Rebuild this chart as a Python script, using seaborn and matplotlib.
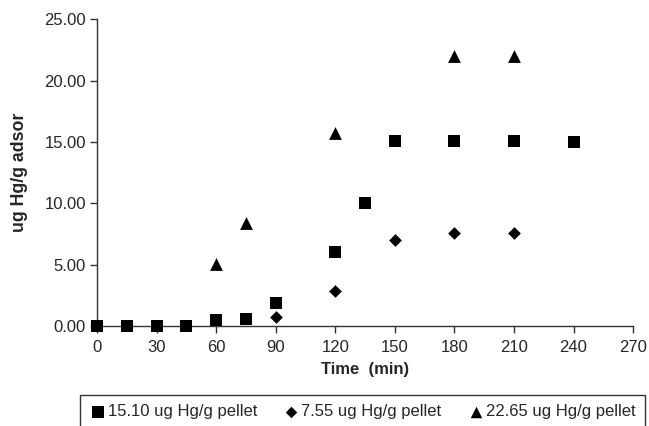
import matplotlib
matplotlib.use("Agg")
import matplotlib.pyplot as plt
import seaborn as sns
import pandas as pd

# Adsorption kinetics: Hg uptake vs. time for three pellet loadings
time_1510 = [0, 15, 30, 45, 60, 75, 90, 120, 135, 150, 180, 210, 240]
hg_1510 = [0.0, 0.0, 0.0, 0.0, 0.45, 0.55, 1.85, 6.0, 10.0, 15.1, 15.1, 15.03, 15.0]

time_755 = [90, 120, 150, 180, 210]
hg_755 = [0.76, 2.83, 7.0, 7.6, 7.6]

time_2265 = [60, 75, 120, 180, 210]
hg_2265 = [5.05, 8.4, 15.75, 22.0, 22.0]

series_labels = ["15.10 ug Hg/g pellet", "7.55 ug Hg/g pellet", "22.65 ug Hg/g pellet"]
x_ticks = list(range(0, 271, 30))
y_ticks = [0, 5, 10, 15, 20, 25]

df = pd.concat([
    pd.DataFrame({"time": time_1510, "hg": hg_1510, "series": series_labels[0]}),
    pd.DataFrame({"time": time_755, "hg": hg_755, "series": series_labels[1]}),
    pd.DataFrame({"time": time_2265, "hg": hg_2265, "series": series_labels[2]}),
], ignore_index=True)

sns.set_style("white")
plt.rcParams["font.family"] = ["Liberation Sans", "DejaVu Sans"]

fig = plt.figure(figsize=(6.49, 4.26), dpi=100)
ax = fig.add_axes([0.1495, 0.235, 0.826, 0.72])

markers = {series_labels[0]: "s", series_labels[1]: "D", series_labels[2]: "^"}
sizes = {series_labels[0]: 80, series_labels[1]: 42, series_labels[2]: 85}

for lab in series_labels:
    sub = df[df["series"] == lab]
    sns.scatterplot(data=sub, x="time", y="hg", ax=ax, marker=markers[lab],
                    s=sizes[lab], color="black", edgecolor="black", linewidth=0,
                    label=lab, clip_on=False, zorder=3)

ax.set_xlim(0, 270)
ax.set_ylim(0, 25)
ax.set_xticks(x_ticks)
ax.set_yticks(y_ticks)
ax.set_yticklabels([f"{v:.2f}" for v in y_ticks])
ax.tick_params(axis="both", direction="out", length=5, width=1, color="#333333",
               labelsize=12, pad=3, left=True, bottom=True)
ax.tick_params(axis="x", pad=5)

for side in ["top", "right"]:
    ax.spines[side].set_visible(False)
for side in ["left", "bottom"]:
    ax.spines[side].set_color("#333333")
    ax.spines[side].set_linewidth(1)

ax.set_xlabel("Time  (min)", fontsize=12, fontweight="bold", labelpad=5)
ax.set_ylabel("ug Hg/g adsor", fontsize=12.8, fontweight="bold", labelpad=12)

leg = ax.legend(loc="upper left", bbox_to_anchor=(80 / 649, 0, 565 / 649, 31 / 426),
                bbox_transform=fig.transFigure, mode="expand", ncol=3, fontsize=12,
                frameon=True, fancybox=False, handletextpad=0.1, columnspacing=1.0,
                borderpad=0.55, borderaxespad=0, handlelength=1.0, markerscale=0.9)
leg.get_frame().set_edgecolor("black")
leg.get_frame().set_linewidth(1)

fig.savefig("out.png", dpi=100)
